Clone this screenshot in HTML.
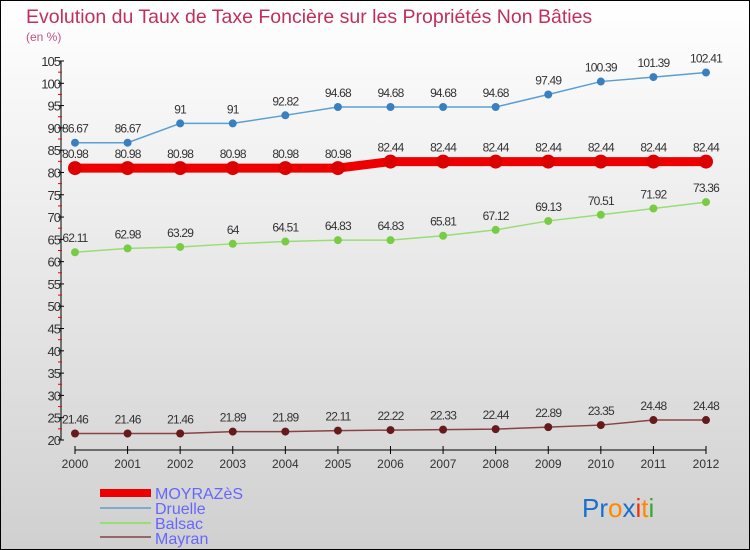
<!DOCTYPE html>
<html><head><meta charset="utf-8"><style>
body{margin:0}
#c{width:750px;height:550px;position:relative;overflow:hidden;font-family:"Liberation Sans",sans-serif}
</style></head><body>
<div id="c">
<svg id="s" width="750" height="550" xmlns="http://www.w3.org/2000/svg">
<defs>
<linearGradient id="bg" x1="0" y1="0" x2="0" y2="1"><stop offset="0" stop-color="#ffffff"/><stop offset="1" stop-color="#d0d0d0"/></linearGradient>
</defs>
<rect x="0.5" y="0.5" width="749" height="549" fill="url(#bg)" stroke="#000"/>
<text x="26" y="23" font-size="19.5" fill="#c0305a">Evolution du Taux de Taxe Foncière sur les Propriétés Non Bâties</text>
<text x="26" y="41" font-size="12" fill="#c0508a">(en %)</text>
<g id="axes"></g><g id="series"></g>
<g>
<rect x="100" y="489" width="51" height="8" fill="#ee0000"/>
<text x="155" y="499" font-size="16" fill="#6666ff">MOYRAZèS</text>
<rect x="100" y="507" width="51" height="2" fill="#80aacc"/>
<text x="155" y="514" font-size="16" fill="#6666ff">Druelle</text>
<rect x="100" y="522" width="51" height="2" fill="#99dd77"/>
<text x="155" y="529" font-size="16" fill="#6666ff">Balsac</text>
<rect x="100" y="536" width="51" height="2" fill="#996666"/>
<text x="155" y="544" font-size="16" fill="#6666ff">Mayran</text>
</g>
<text x="582" y="517" font-size="26"><tspan fill="#1a6fcc">Pr</tspan><tspan fill="#ff8800">o</tspan><tspan fill="#1a6fcc">x</tspan><tspan fill="#ee3300">i</tspan><tspan fill="#ff8800">t</tspan><tspan fill="#33aa33">i</tspan></text>
</svg>
</div>
<script>
const years=[2000,2001,2002,2003,2004,2005,2006,2007,2008,2009,2010,2011,2012];
const moyrazes=[80.98,80.98,80.98,80.98,80.98,80.98,82.44,82.44,82.44,82.44,82.44,82.44,82.44];
const druelle=[86.67,86.67,91,91,92.82,94.68,94.68,94.68,94.68,97.49,100.39,101.39,102.41];
const balsac=[62.11,62.98,63.29,64,64.51,64.83,64.83,65.81,67.12,69.13,70.51,71.92,73.36];
const mayran=[21.46,21.46,21.46,21.89,21.89,22.11,22.22,22.33,22.44,22.89,23.35,24.48,24.48];
const yTicks=[20,25,30,35,40,45,50,55,60,65,70,75,80,85,90,95,100,105];
const NS="http://www.w3.org/2000/svg";
const xs=i=>75+i*(706-75)/(years.length-1);
const ys=v=>440-(v-20)*(440-61)/85;
function mk(t,a,p){const e=document.createElementNS(NS,t);for(const k in a)e.setAttribute(k,a[k]);p.appendChild(e);return e;}
const ax=document.getElementById('axes');
const yl=mk('line',{x1:61,y1:61,x2:61,y2:440,stroke:'#000'},ax);


const xl=mk('line',{x1:75,y1:450,x2:706,y2:450,stroke:'#000'},ax);


yTicks.forEach(v=>{const y=ys(v);
mk('line',{x1:58,y1:y,x2:64,y2:y,stroke:'#000'},ax);
if(v<105){mk('line',{x1:58,y1:ys(v+2.5),x2:62,y2:ys(v+2.5),stroke:'#e00'},ax);}
const t=mk('text',{x:60,y:y+5,'font-size':13,fill:'#333','text-anchor':'end','letter-spacing':'-1'},ax);t.textContent=v;

});
years.forEach((yr,i)=>{const x=xs(i);mk('line',{x1:x,y1:446,x2:x,y2:454,stroke:'#000'},ax);
const t=mk('text',{x:x,y:468,'font-size':12,fill:'#333','text-anchor':'middle'},ax);t.textContent=yr;

});
const sg=document.getElementById('series');
function draw(name,vals,color,dot,w,r){
const g=mk('g',{},sg);


mk('polyline',{points:vals.map((v,i)=>xs(i)+','+ys(v)).join(' '),fill:'none',stroke:color,'stroke-width':w},g);
vals.forEach((v,i)=>{const c=mk('circle',{cx:xs(i),cy:ys(v),r:r,fill:dot},g);


const t=mk('text',{x:xs(i),y:ys(v)-10,'font-size':12,fill:'#333','text-anchor':'middle','letter-spacing':'-0.8'},g);t.textContent=v;

});}
draw('druelle',druelle,'#5a9fd4','#3a80c0',1.5,4);
draw('balsac',balsac,'#99dd77','#77cc44',1.5,4);
draw('mayran',mayran,'#884444','#661a1a',1.5,4);
draw('moyrazes',moyrazes,'#ee0000','#dd0000',9,7);
</script>
</body></html>
